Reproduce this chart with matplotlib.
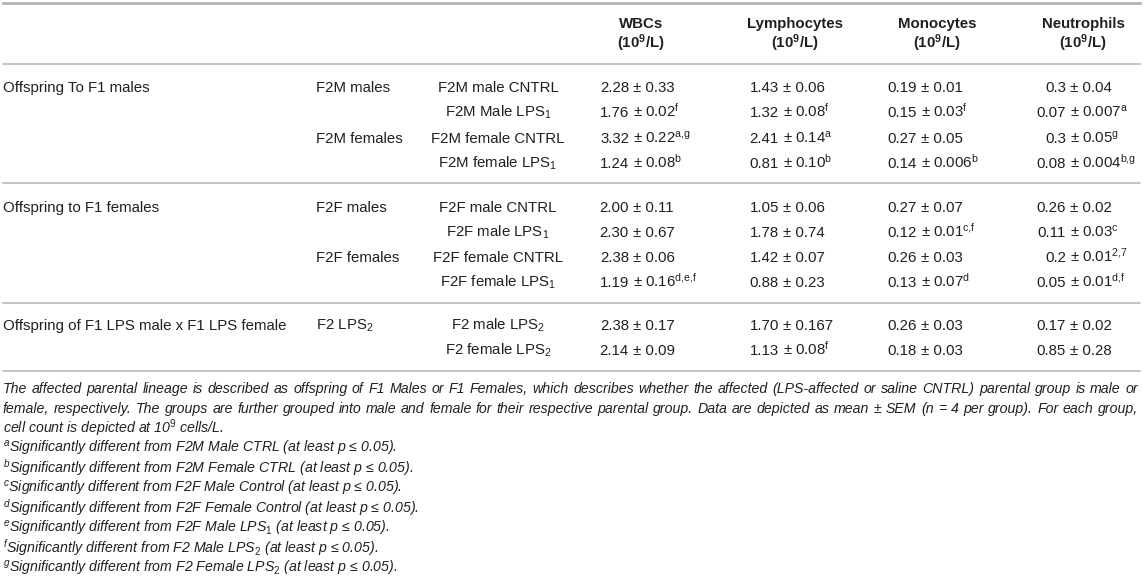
import matplotlib
matplotlib.use('Agg')
import matplotlib.pyplot as plt
from matplotlib.lines import Line2D

plt.rcParams['font.family'] = ['Liberation Sans', 'DejaVu Sans']
plt.rcParams['mathtext.fontset'] = 'custom'
plt.rcParams['mathtext.rm'] = 'Liberation Sans'
plt.rcParams['mathtext.it'] = 'Liberation Sans:italic'
plt.rcParams['mathtext.bf'] = 'Liberation Sans:bold'

# table content
headers = ['WBCs', 'Lymphocytes', 'Monocytes', 'Neutrophils']
lineages = ['Offspring To F1 males', '', '', '',
            'Offspring to F1 females', '', '', '',
            'Offspring of F1 LPS male x F1 LPS female', '']
subgroups = ['F2M males', '', 'F2M females', '',
             'F2F males', '', 'F2F females', '',
             r'F2 LPS$_{\mathrm{2}}$', '']
groups = ['F2M male CNTRL', r'F2M Male LPS$_{\mathrm{1}}$',
          'F2M female CNTRL', r'F2M female LPS$_{\mathrm{1}}$',
          'F2F male CNTRL', r'F2F male LPS$_{\mathrm{1}}$',
          'F2F female CNTRL', r'F2F female LPS$_{\mathrm{1}}$',
          r'F2 male LPS$_{\mathrm{2}}$', r'F2 female LPS$_{\mathrm{2}}$']

wbc = ['2.28 ± 0.33', '1.76 ± 0.02', '3.32 ± 0.22', '1.24 ± 0.08', '2.00 ± 0.11',
       '2.30 ± 0.67', '2.38 ± 0.06', '1.19 ± 0.16', '2.38 ± 0.17', '2.14 ± 0.09']
lymph = ['1.43 ± 0.06', '1.32 ± 0.08', '2.41 ± 0.14', '0.81 ± 0.10', '1.05 ± 0.06',
         '1.78 ± 0.74', '1.42 ± 0.07', '0.88 ± 0.23', '1.70 ± 0.167', '1.13 ± 0.08']
mono = ['0.19 ± 0.01', '0.15 ± 0.03', '0.27 ± 0.05', '0.14 ± 0.006', '0.27 ± 0.07',
        '0.12 ± 0.01', '0.26 ± 0.03', '0.13 ± 0.07', '0.26 ± 0.03', '0.18 ± 0.03']
neutro = ['0.3 ± 0.04', '0.07 ± 0.007', '0.3 ± 0.05', '0.08 ± 0.004', '0.26 ± 0.02',
          '0.11 ± 0.03', '0.2 ± 0.01', '0.05 ± 0.01', '0.17 ± 0.02', '0.85 ± 0.28']

wbc_sup = ['', 'f', 'a,g', 'b', '', '', '', 'd,e,f', '', '']
lymph_sup = ['', 'f', 'a', 'b', '', '', '', '', '', 'f']
mono_sup = ['', 'f', '', 'b', '', 'c,f', '', 'd', '', '']
neutro_sup = ['', 'a', 'g', 'b,g', '', 'c', '2,7', 'd,f', '', '']

paragraph = [
    'The affected parental lineage is described as offspring of F1 Males or F1 Females, '
    'which describes whether the affected (LPS-affected or saline CNTRL) parental group is male or',
    'female, respectively. The groups are further grouped into male and female for their '
    'respective parental group. Data are depicted as mean ± SEM (n = 4 per group). For each group,',
    r'cell count is depicted at 10$^{9}$ cells/L.',
]
footnotes = [
    ('a', 'Significantly different from F2M Male CTRL (at least p ≤ 0.05).'),
    ('b', 'Significantly different from F2M Female CTRL (at least p ≤ 0.05).'),
    ('c', 'Significantly different from F2F Male Control (at least p ≤ 0.05).'),
    ('d', 'Significantly different from F2F Female Control (at least p ≤ 0.05).'),
    ('e', r'Significantly different from F2F Male LPS$_{1}$ (at least p ≤ 0.05).'),
    ('f', r'Significantly different from F2 Male LPS$_{2}$ (at least p ≤ 0.05).'),
    ('g', r'Significantly different from F2 Female LPS$_{2}$ (at least p ≤ 0.05).'),
]

W, H = 1143, 579
INK = '#231f20'
RULE = '#b4b4b4'

fig = plt.figure(figsize=(W / 100, H / 100), dpi=100)


def px(x, y):
    return x / W, 1 - y / H


def put(x, y, s, **kw):
    # y is the visual centre of the line, baseline sits a bit lower
    kw.setdefault('color', INK)
    kw.setdefault('fontsize', 10.8)
    return fig.text(*px(x, y + 5), s, va='baseline', **kw)


def rule(y, lw=1.1):
    fig.add_artist(Line2D([3 / W, 1140 / W], [1 - y / H] * 2, color=RULE, lw=lw))


rule(3, lw=2.0)
rule(64)
rule(183)
rule(303)
rule(371)

# header
head_x = [641, 795, 937, 1083]
for hx, name in zip(head_x, headers):
    put(hx, 23, name, ha='center', fontweight='bold')
    put(hx, 43, r'(10$^{\mathbf{9}}$/L)', ha='center', fontweight='bold')

row_y = [87, 112, 138, 163, 207, 232, 257, 282, 325, 350]
for i, y in enumerate(row_y):
    if lineages[i]:
        put(3, y, lineages[i])
    if subgroups[i]:
        put(316, y, subgroups[i])
    put(498, y, groups[i], ha='center')

# value columns, lined up on the ± sign
pm_x = [633, 783, 921, 1070]
cols = [(wbc, wbc_sup), (lymph, lymph_sup), (mono, mono_sup), (neutro, neutro_sup)]
for xp, (vals, sups) in zip(pm_x, cols):
    for y, v, s in zip(row_y, vals, sups):
        mean, sem = v.split(' ± ')
        put(xp - 4, y, mean, ha='right')
        rest = '± ' + sem
        if s:
            # {,} keeps mathtext from padding the comma
            rest += r'$^{\mathrm{' + s.replace(',', '{,}') + '}}$'
        put(xp, y, rest, ha='left')

# notes below the table
renderer = fig.canvas.get_renderer()


def justify(line, y, x0, x1):
    words = line.split(' ')
    objs = [put(0, y, w, fontsize=10.2, fontstyle='italic') for w in words]
    widths = [o.get_window_extent(renderer).width for o in objs]
    gap = (x1 - x0 - sum(widths)) / (len(words) - 1)
    x = x0
    for o, w in zip(objs, widths):
        o.set_position(px(x, y + 5))
        x += w + gap


note_y = 388
justify(paragraph[0], note_y, 3, 1138)
justify(paragraph[1], note_y + 20, 3, 1138)
put(3, note_y + 40, paragraph[2], fontsize=10.2, fontstyle='italic')

for k, (letter, txt) in enumerate(footnotes):
    put(3, note_y + 60 + 20 * k, r'$^{\mathit{' + letter + '}}$' + txt,
        fontsize=10.2, fontstyle='italic')

fig.savefig('out.png', dpi=100)
